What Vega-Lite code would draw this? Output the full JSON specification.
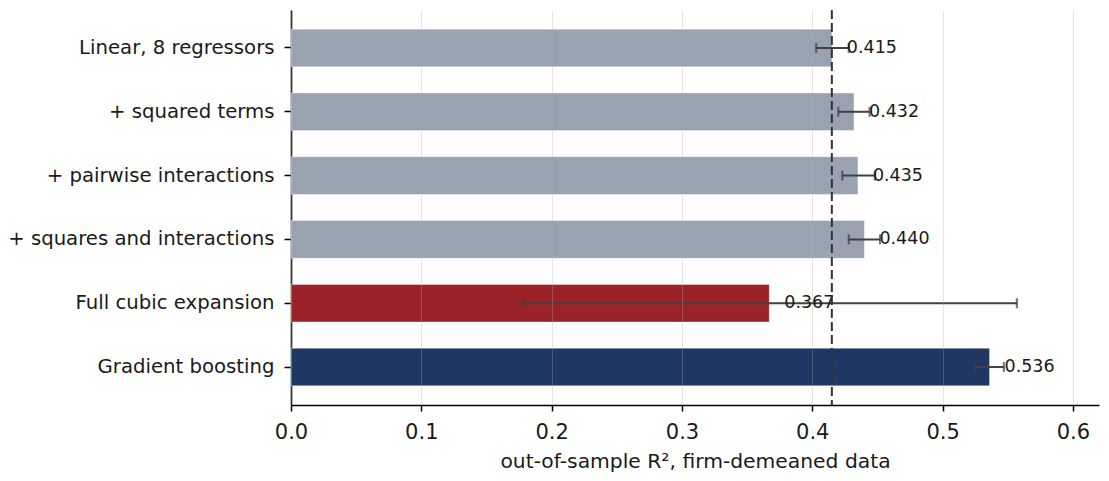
{
  "$schema": "https://vega.github.io/schema/vega-lite/v6.json",
  "description": "Out-of-sample R2 by model specification, with error bars and a dashed baseline",
  "width": 808,
  "height": 395,
  "autosize": {"type": "none"},
  "padding": {"left": 291, "top": 10, "right": 10, "bottom": 76},
  "datasets": {
    "models": [
      {"model": "Linear, 8 regressors", "r2": 0.415, "lo": 0.403, "hi": 0.428, "label": "0.415", "group": "poly"},
      {"model": "+ squared terms", "r2": 0.432, "lo": 0.420, "hi": 0.444, "label": "0.432", "group": "poly"},
      {"model": "+ pairwise interactions", "r2": 0.435, "lo": 0.423, "hi": 0.448, "label": "0.435", "group": "poly"},
      {"model": "+ squares and interactions", "r2": 0.440, "lo": 0.428, "hi": 0.452, "label": "0.440", "group": "poly"},
      {"model": "Full cubic expansion", "r2": 0.367, "lo": 0.178, "hi": 0.557, "label": "0.367", "group": "cubic"},
      {"model": "Gradient boosting", "r2": 0.536, "lo": 0.525, "hi": 0.547, "label": "0.536", "group": "gbm"}
    ],
    "baseline": [{"r2": 0.415}]
  },
  "layer": [
    {
      "data": {"name": "models"},
      "mark": {"type": "bar", "stroke": "white", "strokeOpacity": 0.4, "strokeWidth": 1},
      "encoding": {
        "y": {
          "field": "model",
          "type": "nominal",
          "sort": null,
          "title": null,
          "scale": {"paddingInner": 0.41, "paddingOuter": 0.3},
          "axis": {
            "labelFontSize": 19.7,
            "labelPadding": 10,
            "tickSize": 7,
            "labelLimit": 0
          }
        },
        "x": {
          "field": "r2",
          "type": "quantitative",
          "scale": {"domain": [0, 0.62], "nice": false, "zero": true},
          "title": "out-of-sample R², firm-demeaned data",
          "axis": {
            "values": [0, 0.1, 0.2, 0.3, 0.4, 0.5, 0.6],
            "format": ".1f",
            "grid": true,
            "gridColor": "#aaaaaa",
            "gridOpacity": 0.3,
            "gridWidth": 1,
            "zindex": 1,
            "labelFlush": false,
            "labelFontSize": 21,
            "labelPadding": 10,
            "tickSize": 6,
            "titleFontSize": 20.3,
            "titleFontWeight": "normal",
            "titlePadding": 9
          }
        },
        "color": {
          "field": "group",
          "type": "nominal",
          "scale": {"domain": ["poly", "cubic", "gbm"], "range": ["#98a2b1", "#9b2226", "#1f3763"]},
          "legend": null
        }
      }
    },
    {
      "data": {"name": "models"},
      "mark": {"type": "rule", "color": "#404040", "strokeWidth": 2},
      "encoding": {
        "y": {"field": "model", "type": "nominal", "sort": null},
        "x": {"field": "lo", "type": "quantitative"},
        "x2": {"field": "hi"}
      }
    },
    {
      "data": {"name": "models"},
      "mark": {"type": "tick", "orient": "vertical", "color": "#404040", "size": 10, "thickness": 2.2},
      "encoding": {
        "y": {"field": "model", "type": "nominal", "sort": null},
        "x": {"field": "lo", "type": "quantitative"}
      }
    },
    {
      "data": {"name": "models"},
      "mark": {"type": "tick", "orient": "vertical", "color": "#404040", "size": 10, "thickness": 2.2},
      "encoding": {
        "y": {"field": "model", "type": "nominal", "sort": null},
        "x": {"field": "hi", "type": "quantitative"}
      }
    },
    {
      "data": {"name": "models"},
      "mark": {"type": "text", "align": "left", "baseline": "middle", "dx": 15, "fontSize": 17.5, "color": "#1a1a1a"},
      "encoding": {
        "y": {"field": "model", "type": "nominal", "sort": null},
        "x": {"field": "r2", "type": "quantitative"},
        "text": {"field": "label"}
      }
    },
    {
      "data": {"name": "baseline"},
      "mark": {"type": "rule", "color": "#333333", "strokeWidth": 2, "strokeDash": [9, 4]},
      "encoding": {
        "x": {"field": "r2", "type": "quantitative"}
      }
    }
  ],
  "config": {
    "font": "DejaVu Sans",
    "view": {"stroke": null},
    "axis": {
      "domainColor": "#000000",
      "domainWidth": 1.6,
      "tickColor": "#000000",
      "tickWidth": 1.5,
      "labelColor": "#1a1a1a",
      "titleColor": "#1a1a1a",
      "labelFont": "DejaVu Sans",
      "titleFont": "DejaVu Sans",
      "grid": false
    },
    "axisX": {"grid": true}
  }
}
